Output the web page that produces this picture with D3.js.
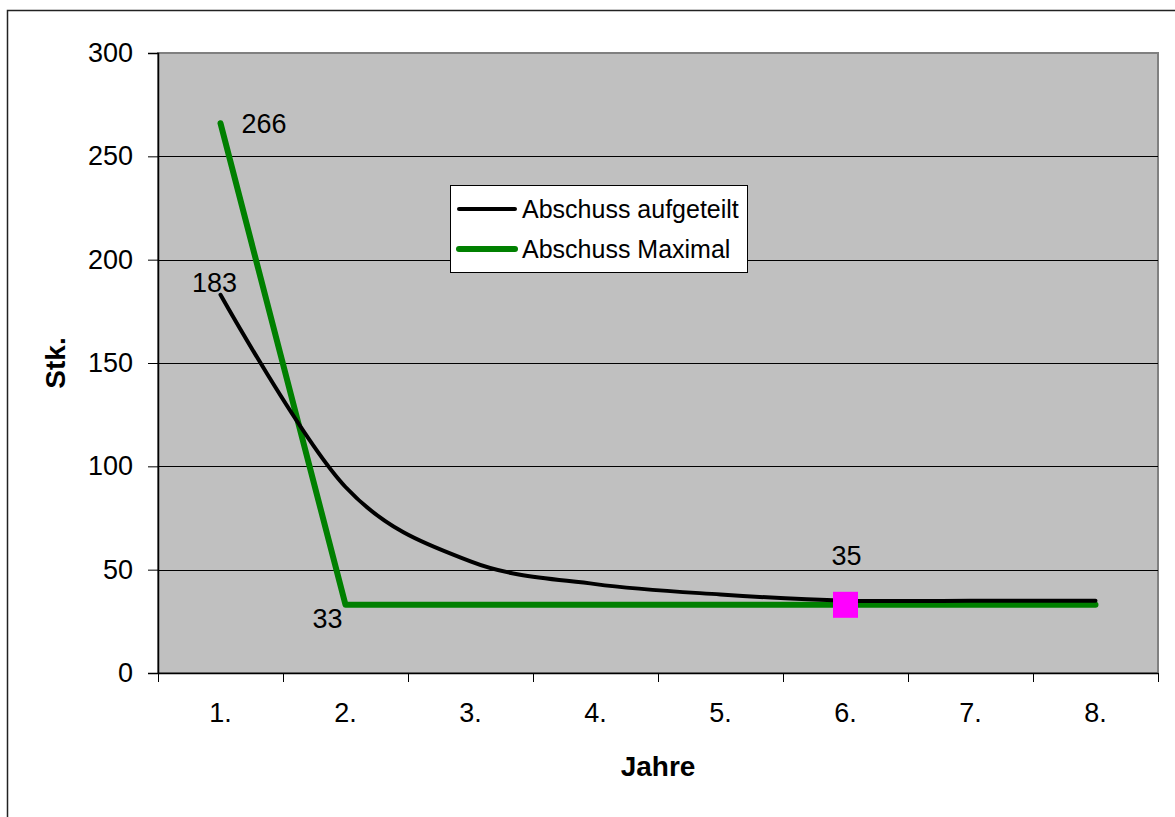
<!DOCTYPE html>
<html lang="de">
<head>
    <meta charset="UTF-8">
    <title>Abschuss</title>
    <script src="https://cdn.jsdelivr.net/npm/d3@7"></script>
    <style>
        body { margin: 0; background: #fff; }
        text { font-family: "Liberation Sans", Arial, sans-serif; fill: #000; }
    </style>
</head>
<body>
<script type="text/javascript">
    // Daten
    var jahre = ['1.', '2.', '3.', '4.', '5.', '6.', '7.', '8.'];
    var aufgeteilt = [183, 90, 54, 43, 38, 35, 35, 35];
    var maximal = [266, 33, 33, 33, 33, 33, 33, 33];
    var yTicks = [0, 50, 100, 150, 200, 250, 300];
    var markiert = ['6.'];   // Punkt mit Quadrat auf "Abschuss Maximal"

    var W = 1175, H = 817;
    var pLeft = 158, pRight = 1158, pTop = 53, pBottom = 673;

    var svg = d3.select('body').append('svg')
            .attr('width', W)
            .attr('height', H);

    // Rahmen aussen
    svg.append('rect')
            .attr('x', 7.5).attr('y', 10.5)
            .attr('width', W).attr('height', H)
            .attr('fill', 'none')
            .attr('stroke', '#222')
            .attr('stroke-width', 1.5);

    var x = d3.scaleBand()
            .domain(jahre)
            .range([pLeft, pRight]);
    var y = d3.scaleLinear()
            .domain([0, 300])
            .range([pBottom, pTop]);
    var cx = function (d) { return x(d) + x.bandwidth() / 2; };

    // Zeichenflaeche
    svg.append('rect')
            .attr('x', pLeft).attr('y', pTop)
            .attr('width', pRight - pLeft).attr('height', pBottom - pTop)
            .attr('fill', '#c0c0c0')
            .attr('stroke', '#808080')
            .attr('stroke-width', 2);

    // Gitternetz
    svg.selectAll('line.grid')
            .data(yTicks.filter(function (d) { return d > 0 && d < 300; }))
            .enter()
            .append('line')
            .attr('class', 'grid')
            .attr('x1', pLeft).attr('x2', pRight)
            .attr('y1', function (d) { return Math.round(y(d)) + 0.5; })
            .attr('y2', function (d) { return Math.round(y(d)) + 0.5; })
            .attr('stroke', '#000')
            .attr('stroke-width', 1);

    // y-Achse
    var yAxis = svg.append('g')
            .attr('transform', 'translate(' + pLeft + ',0)')
            .call(d3.axisLeft(y).tickValues(yTicks).tickSize(10).tickPadding(15));
    yAxis.selectAll('text').style('font-size', '27px');

    // x-Achse (Beschriftung in der Mitte)
    var xAxis = svg.append('g')
            .attr('transform', 'translate(0,' + pBottom + ')')
            .call(d3.axisBottom(x).tickSize(0).tickPadding(30));
    xAxis.selectAll('text').style('font-size', '27px');

    // Striche an den Kategoriegrenzen
    svg.selectAll('line.xtick')
            .data(jahre.map(function (d) { return x(d); }).concat([x.range()[1]]))
            .enter()
            .append('line')
            .attr('class', 'xtick')
            .attr('x1', function (d) { return Math.round(d) + 0.5; })
            .attr('x2', function (d) { return Math.round(d) + 0.5; })
            .attr('y1', pBottom).attr('y2', pBottom + 9)
            .attr('stroke', '#000');

    svg.selectAll('.domain').attr('stroke', '#000').attr('stroke-width', 1.5);

    // Linien
    var lineA = d3.line()
            .x(function (d, i) { return cx(jahre[i]); })
            .y(function (d) { return y(d); })
            .curve(d3.curveCatmullRom.alpha(0));
    var lineM = d3.line()
            .x(function (d, i) { return cx(jahre[i]); })
            .y(function (d) { return y(d); });

    svg.append('path')
            .datum(maximal)
            .attr('d', lineM)
            .attr('fill', 'none')
            .attr('stroke', '#008000')
            .attr('stroke-width', 6)
            .attr('stroke-linecap', 'round')
            .attr('stroke-linejoin', 'round');

    svg.append('path')
            .datum(aufgeteilt)
            .attr('d', lineA)
            .attr('fill', 'none')
            .attr('stroke', '#000')
            .attr('stroke-width', 4)
            .attr('stroke-linecap', 'round');

    // Markierung
    svg.selectAll('rect.mark')
            .data(markiert)
            .enter()
            .append('rect')
            .attr('class', 'mark')
            .attr('x', function (d) { return cx(d) - 12.5; })
            .attr('y', function (d) { return y(maximal[jahre.indexOf(d)]) - 13; })
            .attr('width', 25).attr('height', 26)
            .attr('fill', '#ff00ff');

    // Datenbeschriftungen
    var labels = [
        {v: maximal[0], k: jahre[0], dx: 21, dy: 10, anchor: 'start'},
        {v: aufgeteilt[0], k: jahre[0], dx: -6, dy: -3, anchor: 'middle'},
        {v: maximal[1], k: jahre[1], dx: -3, dy: 23, anchor: 'end'},
        {v: aufgeteilt[5], k: jahre[5], dx: 1, dy: -36, anchor: 'middle'}
    ];
    svg.selectAll('text.lbl')
            .data(labels)
            .enter()
            .append('text')
            .attr('class', 'lbl')
            .attr('x', function (d) { return cx(d.k) + d.dx; })
            .attr('y', function (d) { return y(d.v) + d.dy; })
            .attr('text-anchor', function (d) { return d.anchor; })
            .style('font-size', '27px')
            .text(function (d) { return d.v; });

    // Achsentitel
    svg.append('text')
            .attr('x', (pLeft + pRight) / 2)
            .attr('y', 776)
            .attr('text-anchor', 'middle')
            .style('font-size', '28px')
            .style('font-weight', 'bold')
            .text('Jahre');
    svg.append('text')
            .attr('transform', 'translate(65,' + (pTop + pBottom) / 2 + ') rotate(-90)')
            .attr('text-anchor', 'middle')
            .style('font-size', '28px')
            .style('font-weight', 'bold')
            .text('Stk.');

    // Legende
    var legend = svg.append('g').attr('transform', 'translate(450,185)');
    legend.append('rect')
            .attr('x', 0.5).attr('y', 0.5)
            .attr('width', 297).attr('height', 87)
            .attr('fill', '#fff')
            .attr('stroke', '#000');
    var items = [
        {name: 'Abschuss aufgeteilt', color: '#000', w: 4},
        {name: 'Abschuss Maximal', color: '#008000', w: 6}
    ];
    var li = legend.selectAll('g.item')
            .data(items)
            .enter()
            .append('g')
            .attr('transform', function (d, i) { return 'translate(0,' + (24 + i * 40) + ')'; });
    li.append('line')
            .attr('x1', 9).attr('x2', 65)
            .attr('stroke', function (d) { return d.color; })
            .attr('stroke-width', function (d) { return d.w; })
            .attr('stroke-linecap', 'round');
    li.append('text')
            .attr('x', 72)
            .attr('y', 9)
            .style('font-size', '25px')
            .text(function (d) { return d.name; });
</script>
</body>
</html>
